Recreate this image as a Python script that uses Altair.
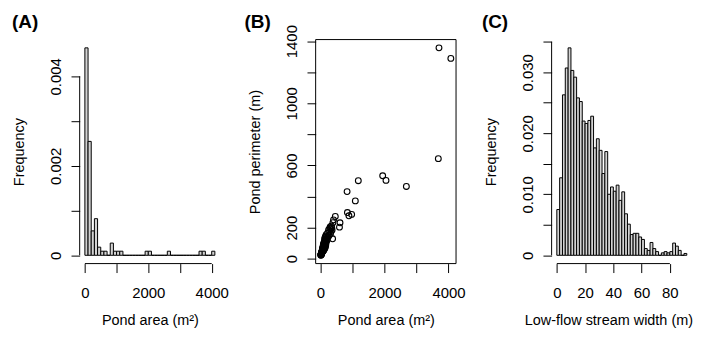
import altair as alt
import numpy as np
import pandas as pd

FONT = "Liberation Sans"

# ---------------- data ----------------
pond_area = [14, 16, 18, 20, 22, 24, 26, 28, 30, 32, 34, 36, 38, 40, 42, 44, 46, 48, 50, 52, 54,
             55, 57, 59, 60, 62, 64, 65, 67, 68, 70, 71, 72, 74, 75, 77, 78, 80, 81, 83, 84,
             85, 87, 88, 90, 91, 93, 94, 96, 97, 99,
             102, 105, 108, 110, 113, 116, 118, 120, 123, 126, 128, 131, 134, 137, 140, 143, 146,
             149, 152, 155, 158, 162, 166, 170, 175, 181, 188, 195,
             210, 225, 240, 255, 270, 290,
             305, 315, 325, 335, 345, 355, 365, 381, 390,
             410, 465, 595, 612, 833, 843, 890, 975, 1090, 1183, 1944, 2047, 2683, 3680, 3701, 4071]
pond_perimeter = [22, 25, 24, 28, 26, 30, 27, 33, 29, 35, 31, 38, 33, 40, 35, 42, 37, 45, 39, 48,
                  41, 52, 43, 47, 55, 45, 50, 60, 46, 53, 66, 49, 57, 51, 70, 54, 61, 50, 74, 56,
                  63, 80, 58, 52, 68, 88, 60, 55, 72, 96, 64,
                  55, 78, 62, 95, 58, 84, 70, 110, 66, 90, 74, 125, 80, 100, 68, 135, 88, 105, 76,
                  118, 95, 145, 85, 128, 100, 155, 112, 140,
                  120, 165, 140, 185, 150, 195,
                  205, 160, 190, 175, 210, 200, 185, 128, 232,
                  250, 272, 203, 231, 432, 297, 276, 285, 372, 502, 534, 504, 465, 644, 1357, 1289]

stream_bin_start = [0, 2, 4, 6, 8, 10, 12, 14, 16, 18, 20, 22, 24, 26, 28, 30, 32, 34, 36, 38,
                    40, 42, 44, 46, 48, 50, 52, 54, 56, 58, 60, 62, 64, 66, 68, 70, 72, 74, 76,
                    78, 80, 82, 84, 86, 88, 90]
stream_freq = [0.0075, 0.0127, 0.0263, 0.0307, 0.0340, 0.0303, 0.0292, 0.0258, 0.0252, 0.0220,
               0.0216, 0.0221, 0.0228, 0.0176, 0.0191, 0.0172, 0.0134, 0.0170, 0.0100, 0.0112,
               0.0105, 0.0115, 0.0090, 0.0104, 0.0068, 0.0051, 0.0034, 0.0036, 0.0036, 0.0030,
               0.0026, 0.0011, 0.0008, 0.0021, 0.0011, 0.0006, 0.0000, 0.0004, 0.0006, 0.0004,
               0.0006, 0.0020, 0.0015, 0.0008, 0.0000, 0.0003]
STREAM_BIN_WIDTH = 2
AREA_BIN_WIDTH = 100

panel_labels = ["(A)", "(B)", "(C)"]

a_x_ticks = [0, 1000, 2000, 3000, 4000]
a_x_labels = ["0", "", "2000", "", "4000"]
a_y_ticks = [0, 0.001, 0.002, 0.003, 0.004]
a_y_labels = ["0", "", "0.002", "", "0.004"]
b_x_ticks = [0, 1000, 2000, 3000, 4000]
b_x_labels = ["0", "", "2000", "", "4000"]
b_y_ticks = [0, 200, 400, 600, 800, 1000, 1200, 1400]
b_y_labels = ["0", "200", "", "600", "", "1000", "", "1400"]
c_x_ticks = [0, 20, 40, 60, 80]
c_x_labels = ["0", "20", "40", "60", "80"]
c_y_ticks = [0, 0.005, 0.01, 0.015, 0.02, 0.025, 0.03, 0.035]
c_y_labels = ["0", "", "0.010", "", "0.020", "", "0.030", ""]

W, H = 141, 225
LABEL_FS = 15
TITLE_FS = 14.5


def ext(lo, hi):
    r = hi - lo
    return [lo - 0.04 * r, hi + 0.04 * r]


def label_expr(ticks, labels):
    expr = "''"
    for t, l in reversed(list(zip(ticks, labels))):
        expr = f"abs(datum.value - {t}) < 1e-9 ? '{l}' : ({expr})"
    return expr


def x_axis(ticks, labels, title, title_x=None):
    kw = dict(values=ticks, labelExpr=label_expr(ticks, labels), domain=False, grid=False,
              tickSize=9, tickColor="black", tickWidth=1,
              labelFont=FONT, labelFontSize=LABEL_FS, labelColor="black", labelPadding=24.7,
              labelBaseline="alphabetic", labelAlign="center", labelFlush=False,
              labelOverlap=False,
              title=title, titleFont=FONT, titleFontSize=TITLE_FS, titleFontWeight="normal",
              titleColor="black", titleY=61, titleBaseline="alphabetic")
    if title_x is not None:
        kw["titleX"] = title_x
        kw["titleAlign"] = "center"
    return alt.Axis(**kw)


def y_axis(ticks, labels, title):
    return alt.Axis(values=ticks, labelExpr=label_expr(ticks, labels), domain=False, grid=False,
                    tickSize=8.7, tickColor="black", tickWidth=1,
                    labelFont=FONT, labelFontSize=LABEL_FS, labelColor="black", labelPadding=10.3,
                    labelAngle=270, labelAlign="center", labelBaseline="alphabetic",
                    labelFlush=False, labelOverlap=False,
                    title=title, titleFont=FONT, titleFontSize=TITLE_FS, titleFontWeight="normal",
                    titleColor="black", titleAngle=270, titleX=-56, titleBaseline="alphabetic",
                    titleAlign="center")


def panel_label(text, dx):
    return alt.Chart(alt.Data(values=[{}])).mark_text(
        font=FONT, fontSize=19, fontWeight="bold", align="left", baseline="alphabetic",
        color="black").encode(x=alt.value(dx), y=alt.value(-11.5), text=alt.value(text))


def axis_lines(xt, yt, xscale, yscale, xaxis, yaxis):
    lx = alt.Chart(alt.Data(values=[{}])).mark_rule(color="black", strokeWidth=1).encode(
        x=alt.XDatum(xt[0], type="quantitative", scale=xscale, axis=xaxis),
        x2=alt.X2Datum(xt[-1]), y=alt.value(H))
    ly = alt.Chart(alt.Data(values=[{}])).mark_rule(color="black", strokeWidth=1).encode(
        y=alt.YDatum(yt[0], type="quantitative", scale=yscale, axis=yaxis),
        y2=alt.Y2Datum(yt[-1]), x=alt.value(0))
    return [lx, ly]


# ---------------- panel A ----------------
edges = np.arange(0, max(pond_area) + AREA_BIN_WIDTH, AREA_BIN_WIDTH)
if edges[-1] < max(pond_area):
    edges = np.append(edges, edges[-1] + AREA_BIN_WIDTH)
counts, edges = np.histogram(pond_area, bins=edges)
dfa = pd.DataFrame({"x0": edges[:-1], "x1": edges[1:],
                    "dens": counts / (len(pond_area) * AREA_BIN_WIDTH), "z": 0.0})
a_xs = alt.Scale(domain=ext(edges[0], edges[-1]), nice=False, zero=False)
a_ys = alt.Scale(domain=ext(0, dfa["dens"].max()), nice=False, zero=False)
a_xa = x_axis(a_x_ticks, a_x_labels, "Pond area (m²)")
a_ya = y_axis(a_y_ticks, a_y_labels, "Frequency")
bars_a = alt.Chart(dfa).mark_rect(fill="#d3d3d3", stroke="black", strokeWidth=1).encode(
    x=alt.X("x0:Q", scale=a_xs, axis=a_xa), x2="x1:Q",
    y=alt.Y("dens:Q", scale=a_ys, axis=a_ya), y2="z:Q")
panel_a = alt.layer(
    bars_a, *axis_lines(a_x_ticks, a_y_ticks, a_xs, a_ys, a_xa, a_ya),
    panel_label(panel_labels[0], -68)).properties(width=W, height=H)

# ---------------- panel B ----------------
dfb = pd.DataFrame({"area": pond_area, "perim": pond_perimeter})
pts = alt.Chart(dfb).mark_point(shape="circle", filled=False, stroke="black", strokeWidth=1.1,
                                size=34, opacity=1).encode(
    x=alt.X("area:Q", scale=alt.Scale(domain=ext(min(pond_area), max(pond_area)),
                                      nice=False, zero=False),
            axis=x_axis(b_x_ticks, b_x_labels, "Pond area (m²)")),
    y=alt.Y("perim:Q", scale=alt.Scale(domain=ext(min(pond_perimeter), max(pond_perimeter)),
                                       nice=False, zero=False),
            axis=y_axis(b_y_ticks, b_y_labels, "Pond perimeter (m)")))
frame_b = alt.Chart(alt.Data(values=[{}])).mark_rect(
    fill="transparent", stroke="black", strokeWidth=1).encode(
    x=alt.value(0), x2=alt.value(W), y=alt.value(0), y2=alt.value(H))
panel_b = alt.layer(pts, frame_b, panel_label(panel_labels[1], -71.5)).properties(
    width=W, height=H)

# ---------------- panel C ----------------
dfc = pd.DataFrame({"x0": stream_bin_start,
                    "x1": [s + STREAM_BIN_WIDTH for s in stream_bin_start],
                    "dens": stream_freq, "z": 0.0})
c_xs = alt.Scale(domain=ext(stream_bin_start[0], stream_bin_start[-1] + STREAM_BIN_WIDTH),
                 nice=False, zero=False)
c_ys = alt.Scale(domain=ext(0, max(stream_freq)), nice=False, zero=False)
c_xa = x_axis(c_x_ticks, c_x_labels, "Low-flow stream width (m)", title_x=57)
c_ya = y_axis(c_y_ticks, c_y_labels, "Frequency")
bars_c = alt.Chart(dfc).mark_rect(fill="#d3d3d3", stroke="black", strokeWidth=1).encode(
    x=alt.X("x0:Q", scale=c_xs, axis=c_xa), x2="x1:Q",
    y=alt.Y("dens:Q", scale=c_ys, axis=c_ya), y2="z:Q")
panel_c = alt.layer(
    bars_c, *axis_lines(c_x_ticks, c_y_ticks, c_xs, c_ys, c_xa, c_ya),
    panel_label(panel_labels[2], -70)).properties(width=W, height=H)

chart = alt.hconcat(panel_a, panel_b, panel_c, spacing=96, bounds="flush").properties(
    padding={"left": 4, "top": 4, "right": 0, "bottom": 0},
    background="white",
).configure(font=FONT).configure_view(stroke=None)

chart.save("out.html", embed_options={"renderer": "svg", "actions": False})
